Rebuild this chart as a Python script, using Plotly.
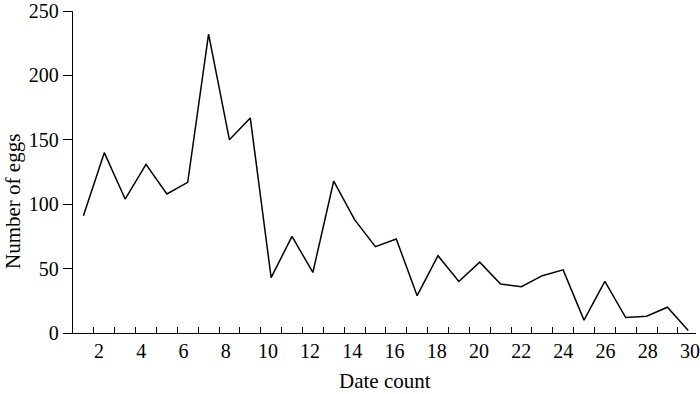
import plotly.graph_objects as go

days = list(range(1, 31))
eggs = [91, 140, 104, 131, 108, 117, 232, 150, 167, 43, 75, 47, 118, 88, 67,
        73, 29, 60, 40, 55, 38, 36, 44.5, 49, 10, 40, 12, 13, 20, 2]
x_labels = list(range(2, 31, 2))
y_ticks = [0, 50, 100, 150, 200, 250]

FONT = "Liberation Serif, Times New Roman, serif"

fig = go.Figure()
fig.add_trace(go.Scatter(x=days, y=eggs, mode="lines",
                         line=dict(color="black", width=1.5),
                         showlegend=False, hoverinfo="skip"))

# label placement as in the original figure (slightly offset from the data grid)
label_pos = [-0.274 + 1.0118 * n for n in x_labels]
minor_pos = [d + 0.5 for d in days[:-1]]

L, R, T, B = 73, 4, 11, 61
PW, PH = 700 - L - R, 394 - T - B

fig.update_layout(
    width=700, height=394,
    margin=dict(l=L, r=R, t=T, b=B, autoexpand=False),
    paper_bgcolor="white", plot_bgcolor="white",
    font=dict(family=FONT, size=20, color="black"),
    xaxis=dict(
        range=[0.5, 30.37], showgrid=False, zeroline=False, automargin=False,
        showline=True, linecolor="black", linewidth=1.3,
        tickmode="array", tickvals=label_pos, ticktext=[str(v) for v in x_labels],
        ticks="", ticklabelstandoff=0,
        minor=dict(tickmode="array", tickvals=minor_pos, ticks="inside",
                   ticklen=6, tickwidth=1.3, tickcolor="black", showgrid=False),
    ),
    yaxis=dict(
        range=[0, 250], showgrid=False, zeroline=False, automargin=False,
        showline=True, linecolor="black", linewidth=1.3,
        tickmode="array", tickvals=y_ticks,
        ticks="outside", ticklen=9, tickwidth=1.3, tickcolor="black",
    ),
    annotations=[
        dict(text="Number of eggs", textangle=-90, showarrow=False,
             xref="paper", yref="paper",
             x=(13 - L) / PW, y=(394 - B - 202) / PH,
             xanchor="center", yanchor="middle",
             font=dict(size=21, family=FONT)),
        dict(text="Date count", showarrow=False,
             xref="paper", yref="paper",
             x=0.5, y=(394 - B - 381) / PH,
             xanchor="center", yanchor="middle",
             font=dict(size=21, family=FONT)),
    ],
)

fig.write_html("out.html",
               config={"displayModeBar": False},
               post_script="document.body.style.margin='0';document.body.style.overflow='hidden';")
